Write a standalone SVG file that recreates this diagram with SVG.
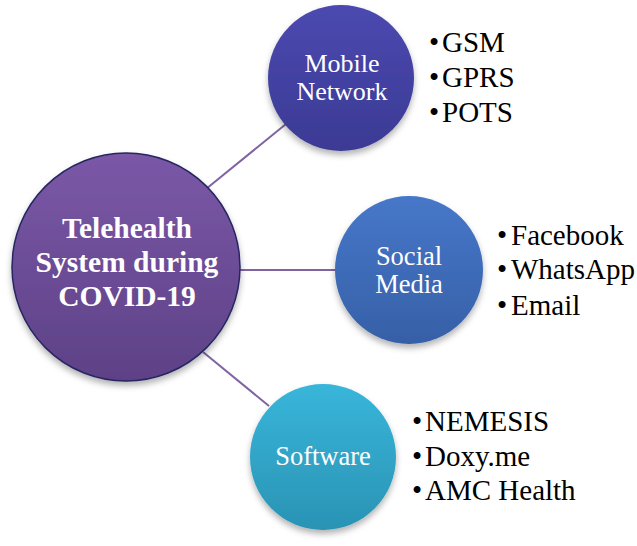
<svg xmlns="http://www.w3.org/2000/svg" width="637" height="546" viewBox="0 0 637 546">
<style>
.conn{stroke:#8064a2;stroke-width:2;fill:none}
.lbl{font-family:"Liberation Serif","Times New Roman",serif;fill:#ffffff;text-anchor:middle}
.blt{font-family:"Liberation Serif","Times New Roman",serif;fill:#000000;font-size:29px}
</style>
<defs>
<linearGradient id="gC" x1="0" y1="0" x2="0" y2="1"><stop offset="0" stop-color="#7b58a7"/><stop offset="1" stop-color="#5d4186"/></linearGradient>
<linearGradient id="gM" x1="0" y1="0" x2="0" y2="1"><stop offset="0" stop-color="#4b49b0"/><stop offset="1" stop-color="#3b3a94"/></linearGradient>
<linearGradient id="gS" x1="0" y1="0" x2="0" y2="1"><stop offset="0" stop-color="#4777c9"/><stop offset="1" stop-color="#3660a7"/></linearGradient>
<linearGradient id="gW" x1="0" y1="0" x2="0" y2="1"><stop offset="0" stop-color="#38b6da"/><stop offset="1" stop-color="#2a93b4"/></linearGradient>
<filter id="sh" x="-20%" y="-20%" width="140%" height="150%"><feDropShadow dx="0" dy="4" stdDeviation="3" flood-color="#000" flood-opacity="0.3"/></filter>
</defs>
<g id="connectors">
<line class="conn" x1="206" y1="189" x2="286" y2="124"/>
<line class="conn" x1="239" y1="270" x2="336" y2="270"/>
<line class="conn" x1="203" y1="352" x2="269" y2="406"/>
</g>
<g id="central">
<circle cx="126" cy="267" r="114" fill="url(#gC)" stroke="#262660" stroke-width="1.5" filter="url(#sh)"/>
<text class="lbl" font-size="29.5" font-weight="bold"><tspan x="127" y="238">Telehealth</tspan><tspan x="127" y="272">System during</tspan><tspan x="127" y="306">COVID-19</tspan></text>
</g>
<g id="mobile">
<circle cx="341" cy="78" r="73" fill="url(#gM)" filter="url(#sh)"/>
<text class="lbl" font-size="26"><tspan x="342" y="72">Mobile</tspan><tspan x="342" y="100">Network</tspan></text>
<text class="blt"><tspan x="429" y="52">•</tspan><tspan x="442" y="52">GSM</tspan><tspan x="429" y="87">•</tspan><tspan x="442" y="87">GPRS</tspan><tspan x="429" y="122">•</tspan><tspan x="442" y="122">POTS</tspan></text>
</g>
<g id="social">
<circle cx="409" cy="270" r="74" fill="url(#gS)" filter="url(#sh)"/>
<text class="lbl" font-size="26.5"><tspan x="409" y="265">Social</tspan><tspan x="409" y="293">Media</tspan></text>
<text class="blt"><tspan x="497" y="245">•</tspan><tspan x="511" y="245">Facebook</tspan><tspan x="497" y="279">•</tspan><tspan x="511" y="279">WhatsApp</tspan><tspan x="497" y="315">•</tspan><tspan x="511" y="315">Email</tspan></text>
</g>
<g id="software">
<circle cx="323" cy="457" r="73" fill="url(#gW)" filter="url(#sh)"/>
<text class="lbl" font-size="26.5" x="323" y="465">Software</text>
<text class="blt"><tspan x="412" y="431">•</tspan><tspan x="425" y="431">NEMESIS</tspan><tspan x="412" y="466">•</tspan><tspan x="425" y="466">Doxy.me</tspan><tspan x="412" y="500">•</tspan><tspan x="425" y="500">AMC Health</tspan></text>
</g>
</svg>
